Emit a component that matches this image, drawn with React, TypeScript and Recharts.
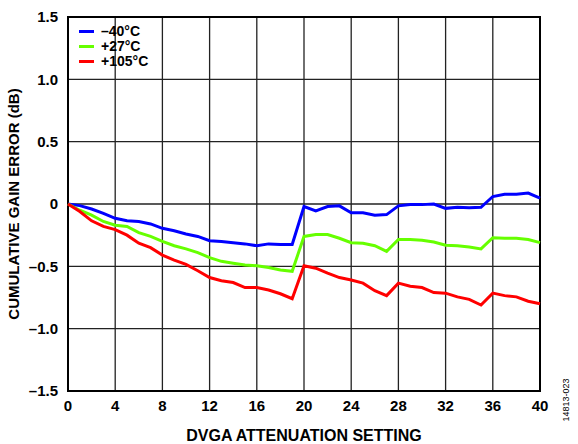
import React from 'react';
import {
  LineChart,
  Line,
  XAxis,
  YAxis,
  CartesianGrid,
  ReferenceArea,
} from 'recharts';

const settings = [
  0, 1, 2, 3, 4, 5, 6, 7, 8, 9, 10, 11, 12, 13, 14, 15, 16, 17, 18, 19, 20,
  21, 22, 23, 24, 25, 26, 27, 28, 29, 30, 31, 32, 33, 34, 35, 36, 37, 38, 39, 40,
];

const minus40 = [
  0, -0.013, -0.04, -0.075, -0.115, -0.135, -0.14, -0.16, -0.195, -0.215, -0.24,
  -0.26, -0.295, -0.3, -0.31, -0.32, -0.335, -0.32, -0.325, -0.325, -0.02,
  -0.055, -0.02, -0.015, -0.07, -0.07, -0.09, -0.085, -0.015, -0.005, -0.005,
  0, -0.035, -0.027, -0.03, -0.027, 0.06, 0.078, 0.078, 0.088, 0.048,
];

const plus27 = [
  0, -0.05, -0.09, -0.14, -0.17, -0.18, -0.23, -0.26, -0.3, -0.335, -0.36,
  -0.39, -0.43, -0.46, -0.475, -0.49, -0.495, -0.51, -0.53, -0.54, -0.26,
  -0.245, -0.245, -0.275, -0.31, -0.315, -0.335, -0.38, -0.285, -0.285, -0.29,
  -0.305, -0.33, -0.335, -0.345, -0.36, -0.27, -0.275, -0.275, -0.285, -0.31,
];

const plus105 = [
  0, -0.06, -0.135, -0.18, -0.205, -0.25, -0.315, -0.35, -0.41, -0.45, -0.485,
  -0.535, -0.59, -0.615, -0.63, -0.67, -0.67, -0.69, -0.72, -0.76, -0.495,
  -0.515, -0.555, -0.59, -0.61, -0.635, -0.695, -0.735, -0.635, -0.66, -0.67,
  -0.71, -0.715, -0.745, -0.765, -0.81, -0.715, -0.735, -0.745, -0.78, -0.8,
];

const xTicks = [0, 4, 8, 12, 16, 20, 24, 28, 32, 36, 40];
const yTicks = [-1.5, -1.0, -0.5, 0, 0.5, 1.0, 1.5];

const series = [
  { key: 'm40', name: '\u201340°C', color: '#0000ff' },
  { key: 'p27', name: '+27°C', color: '#66ff00' },
  { key: 'p105', name: '+105°C', color: '#ff0000' },
];

const data = settings.map((s, i) => ({
  x: s,
  m40: minus40[i],
  p27: plus27[i],
  p105: plus105[i],
}));

const font = '"Liberation Sans", Arial, sans-serif';
const tickStyle = { fill: '#000', fontSize: 15, fontWeight: 700, fontFamily: font };

const formatY = (v: number) => {
  if (v === 0) return '0';
  const s = Math.abs(v).toFixed(1);
  return v < 0 ? `\u2013${s}` : s;
};

const LegendBox = () => (
  <div
    style={{
      position: 'absolute',
      left: 79,
      top: 24,
      fontFamily: font,
      fontWeight: 700,
      fontSize: 14,
      lineHeight: '15px',
      color: '#000',
    }}
  >
    {series.map((s) => (
      <div key={s.key} style={{ display: 'flex', alignItems: 'center', height: 15 }}>
        <span style={{ display: 'inline-block', width: 15, height: 3, background: s.color, marginRight: 7 }} />
        <span>{s.name}</span>
      </div>
    ))}
  </div>
);

export default function App() {
  return (
    <div style={{ position: 'absolute', left: 0, top: 0, width: 578, height: 444, background: '#fff' }}>
      <LineChart
        width={578}
        height={444}
        data={data}
        margin={{ top: 17, right: 38, bottom: 0, left: 26 }}
      >
        <CartesianGrid stroke="#222" strokeWidth={1.3} />
        <XAxis
          dataKey="x"
          type="number"
          domain={[0, 40]}
          ticks={xTicks}
          tickLine={false}
          axisLine={false}
          tick={tickStyle}
          tickMargin={3}
          height={53}
          label={{
            value: 'DVGA ATTENUATION SETTING',
            position: 'insideBottom',
            offset: 3,
            style: { fill: '#000', fontSize: 16, fontWeight: 700, fontFamily: font },
          }}
        />
        <YAxis
          type="number"
          domain={[-1.5, 1.5]}
          ticks={yTicks}
          tickFormatter={formatY}
          tickLine={false}
          axisLine={false}
          width={42}
          tickMargin={4}
          tick={tickStyle}
          label={{
            value: 'CUMULATIVE GAIN ERROR (dB)',
            angle: -90,
            position: 'insideLeft',
            offset: -12,
            style: { fill: '#000', fontSize: 15, fontWeight: 700, fontFamily: font, textAnchor: 'middle' },
          }}
        />
        <ReferenceArea x1={0} x2={40} y1={-1.5} y2={1.5} fill="none" stroke="#000" strokeWidth={2} />
        {series.map((s) => (
          <Line
            key={s.key}
            dataKey={s.key}
            name={s.name}
            stroke={s.color}
            strokeWidth={3}
            dot={false}
            type="linear"
            isAnimationActive={false}
          />
        ))}
      </LineChart>
      <LegendBox />
      <div
        style={{
          position: 'absolute',
          left: 566,
          top: 400,
          transform: 'translate(-50%, -50%) rotate(-90deg)',
          fontFamily: font,
          fontSize: 9,
          color: '#000',
          whiteSpace: 'nowrap',
        }}
      >
        14813-023
      </div>
    </div>
  );
}
